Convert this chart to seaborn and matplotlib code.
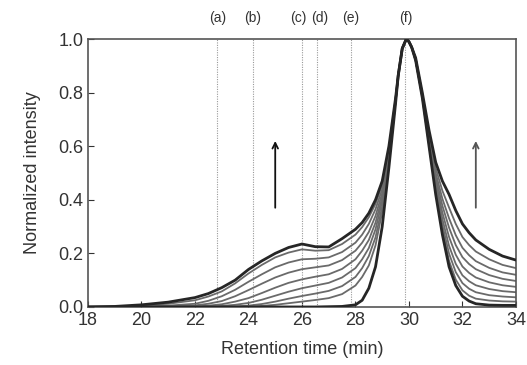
import numpy as np
import pandas as pd
import seaborn as sns
import matplotlib
matplotlib.use("Agg")
import matplotlib.pyplot as plt

# retention time grid (min)
rt = [18, 19, 20, 21, 22, 22.5, 23, 23.5, 24, 24.5, 25, 25.5, 26, 26.5, 27, 27.5,
      28, 28.25, 28.5, 28.75, 29, 29.25, 29.5, 29.6, 29.75, 29.9, 30, 30.1, 30.25,
      30.5, 30.75, 31, 31.25, 31.5, 31.75, 32, 32.25, 32.5, 33, 33.5, 34]

# normalized intensity, lowest trace first
c0 = [0, 0, 0, 0, 0, 0, 0, 0, 0, 0, 0, 0, 0, 0, .001, .002,
      .008, .025, .07, .15, .30, .52, .76, .865, .965, 1.0, .99, .97, .92,
      .78, .60, .42, .27, .15, .08, .04, .022, .012, .007, .006, .006]
c1 = [0, 0, 0, 0, 0, 0, 0, 0, .001, .004, .008, .014, .02, .026, .033, .048,
      .08, .112, .155, .23, .355, .535, .765, .865, .965, 1.0, .99, .97, .92,
      .78, .605, .43, .286, .172, .102, .062, .042, .031, .024, .021, .02]
c2 = [0, 0, 0, 0, 0, 0, .001, .002, .005, .011, .02, .031, .041, .05, .06, .078,
      .112, .145, .19, .26, .375, .545, .765, .865, .965, 1.0, .99, .97, .92,
      .784, .611, .441, .306, .199, .13, .089, .068, .055, .044, .039, .036]
c3 = [0, 0, 0, 0, 0, .001, .004, .008, .015, .027, .042, .057, .07, .08, .09, .11,
      .145, .178, .22, .29, .395, .555, .77, .865, .965, 1.0, .99, .97, .92,
      .786, .617, .455, .328, .228, .161, .118, .096, .081, .067, .059, .055]
c4 = [0, 0, 0, .001, .002, .005, .01, .02, .033, .052, .072, .09, .103, .113, .122, .142,
      .178, .21, .25, .315, .41, .565, .77, .865, .965, 1.0, .99, .97, .925,
      .788, .625, .469, .352, .261, .195, .151, .127, .110, .092, .081, .075]
c5 = [0, 0, .001, .002, .006, .012, .022, .04, .063, .087, .11, .128, .141, .148, .155, .175,
      .21, .24, .28, .34, .425, .575, .775, .865, .965, 1.0, .99, .97, .925,
      .791, .632, .485, .378, .296, .231, .186, .16, .141, .119, .105, .097]
c6 = [0, 0, .002, .005, .012, .023, .04, .064, .094, .122, .148, .166, .178, .18, .185, .205,
      .24, .27, .31, .365, .44, .585, .775, .865, .965, 1.0, .99, .97, .925,
      .793, .64, .50, .404, .331, .268, .221, .193, .171, .146, .129, .12]
c7 = [0, .001, .005, .012, .025, .039, .058, .088, .125, .157, .185, .203, .215, .21, .212, .235,
      .27, .298, .335, .385, .455, .59, .78, .865, .965, 1.0, .99, .97, .93,
      .796, .649, .518, .434, .371, .31, .261, .231, .207, .178, .157, .145]
c8 = [0, .002, .008, .018, .035, .05, .072, .1, .14, .172, .2, .222, .235, .225, .224, .255,
      .29, .315, .35, .40, .47, .60, .78, .865, .965, 1.0, .99, .97, .93,
      .80, .66, .54, .47, .42, .36, .31, .277, .25, .215, .19, .175]

# marked retention times
mark_labels = ["(a)", "(b)", "(c)", "(d)", "(e)", "(f)"]
mark_times = [22.84, 24.16, 26.0, 26.56, 27.84, 29.87]

traces = [c0, c1, c2, c3, c4, c5, c6, c7, c8]


def main():
    sns.set_style("ticks")
    plt.rcParams['font.family'] = ['Liberation Sans', 'DejaVu Sans']

    fig = plt.figure(figsize=(5.27, 3.65), dpi=100)
    ax = fig.add_axes([0.167, 0.159, 0.812, 0.734])

    for t in mark_times:
        ax.axvline(t, color="#999999", lw=0.8, ls=(0, (1, 1.2)), zorder=1)

    for i, y in enumerate(traces):
        df = pd.DataFrame({"rt": rt, "intensity": y})
        edge = i in (0, len(traces) - 1)
        sns.lineplot(data=df, x="rt", y="intensity", ax=ax,
                     color="#262626" if edge else "#6a6a6a",
                     lw=2.0 if edge else 1.3, zorder=3 if edge else 2)

    # arrows showing growth of the shoulder/tail
    ax.annotate("", xy=(25.0, 0.63), xytext=(25.0, 0.36),
                arrowprops=dict(arrowstyle="->", color="#111111", lw=1.3))
    ax.annotate("", xy=(32.5, 0.63), xytext=(32.5, 0.36),
                arrowprops=dict(arrowstyle="->", color="#555555", lw=1.3))

    for lab, t in zip(mark_labels, mark_times):
        dx = 0.12 if lab == "(d)" else (-0.12 if lab == "(c)" else 0)
        ax.text(t + dx, 1.078, lab, ha="center", va="center", fontsize=10,
                color="#333333", clip_on=False)

    ax.set_xlim(18, 34)
    ax.set_ylim(0, 1.0)
    ax.set_xticks(np.arange(18, 35, 2))
    ax.set_yticks(np.arange(0, 1.01, 0.2))
    ax.set_yticklabels(["0.0", "0.2", "0.4", "0.6", "0.8", "1.0"])
    ax.tick_params(direction="in", length=4, labelsize=13, colors="#333333",
                   top=False, right=False)
    for s in ax.spines.values():
        s.set_color("#555555")
        s.set_linewidth(1.2)
        s.set_visible(True)
    ax.set_xlabel("Retention time (min)", fontsize=13, color="#333333", labelpad=9)
    ax.set_ylabel("Normalized intensity", fontsize=13, color="#333333", labelpad=12)

    fig.savefig("out.png", dpi=100, facecolor="white")


if __name__ == '__main__':
    main()
